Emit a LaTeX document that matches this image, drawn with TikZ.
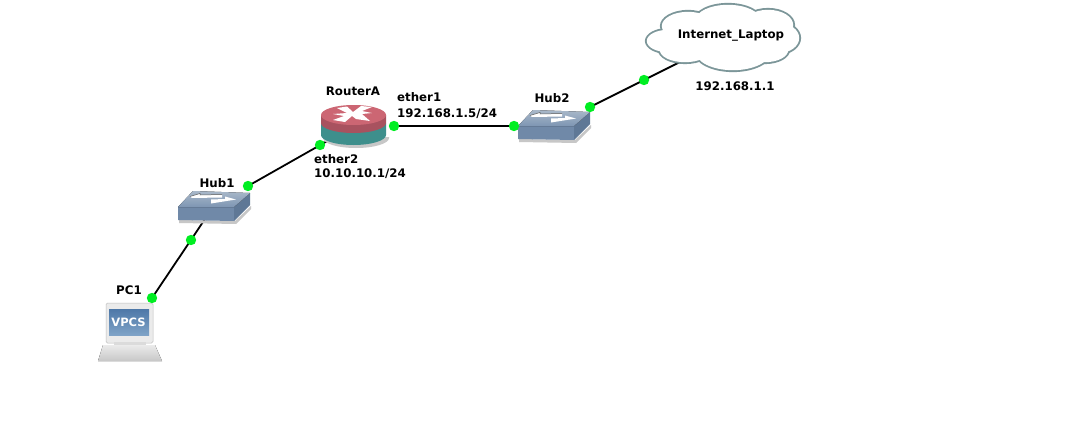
\documentclass[tikz,border=0pt]{standalone}
\usepackage{fontspec}
\setmainfont{DejaVu Sans}
\definecolor{hubF}{HTML}{7089A8}
\definecolor{hubS}{HTML}{5F7896}
\definecolor{hubT}{HTML}{7E96B3}
\definecolor{hubTa}{HTML}{A9B8C9}
\definecolor{redT}{HTML}{CC6673}
\definecolor{redB}{HTML}{A8525F}
\definecolor{tealB}{HTML}{3E8F8C}
\definecolor{cloudL}{HTML}{7C9699}
\definecolor{scrA}{HTML}{4E78A8}
\definecolor{scrB}{HTML}{7FA3C7}
\definecolor{dotG}{HTML}{00EE22}
\tikzset{
  x=1pt,y=-1pt,
  lbl/.style={font=\fontsize{11.8}{13}\selectfont\bfseries,inner sep=0pt,text=black},
  dotn/.style={circle,minimum size=10.5pt,inner sep=0pt},
  link/.style={draw=black,line width=1.8pt},
  pics/hubicon/.style={code={
    \fill[black!22] (1,29)--(57,30)--(73,15)--(73,18)--(58,33)--(1,32)--cycle;
    \fill[hubF] (0,16)--(56,16)--(56,30)--(0,29)--cycle;
    \fill[hubS] (56,16)--(72,2)--(72,14)--(56,30)--cycle;
    \fill[top color=hubTa,bottom color=hubT] (15,0)--(72,2)--(56,16)--(0,16)--cycle;
    \fill[white] (12,5.5)--(22,2.5)--(22,4)--(44,3.5)--(44,6.5)--(14,7)--cycle;
    \fill[white] (33,8.5)--(47,8)--(47,5.5)--(58,8.5)--(33,12.5)--cycle;
    \draw[black!65,line width=.5pt] (12,5.5)--(22,2.5)--(22,4)--(44,3.5);
  }}
}
\begin{document}
\begin{tikzpicture}
\useasboundingbox (0,0) rectangle (1079,442);
\fill[white] (0,0) rectangle (1079,442);
% end points of the links inside the devices
\coordinate (hubAin) at (207,216);
\coordinate (routerIn) at (345,131);
\coordinate (hubBl) at (540,126);
\coordinate (cloudIn) at (700,52);
% dots (painted after the devices)
\node[dotn] (d1) at (152,298) {};
\node[dotn] (d2) at (191,240) {};
\node[dotn] (d3) at (248,186) {};
\node[dotn] (d4) at (320,145) {};
\node[dotn] (d5) at (394,126) {};
\node[dotn] (d6) at (514,126) {};
\node[dotn] (d7) at (590,107) {};
\node[dotn] (d8) at (644,80) {};
% links
\draw[link] (d1.center) -- (hubAin);
\draw[link] (d3.center) -- (routerIn);
\draw[link] (d5.center) -- (hubBl);
\draw[link] (d7.center) -- (cloudIn);
% cloud: ellipses in the outline colour, then the same ellipses in white
\foreach \cx/\cy/\rx/\ry in {668/41/22/12,688/26/27/15,728/20/33/16,768/25/26/16,778/38/22/16,765/50/24/13,733/52/38/19,685/50/26/13}
  \fill[cloudL] (\cx,\cy) ellipse[x radius=\rx+1.1,y radius=\ry+1.1];
\foreach \cx/\cy/\rx/\ry in {668/41/22/12,688/26/27/15,728/20/33/16,768/25/26/16,778/38/22/16,765/50/24/13,733/52/38/19,685/50/26/13,725/36/50/16}
  \fill[white] (\cx,\cy) ellipse[x radius=\rx-.8,y radius=\ry-.8];
% hubs
\pic at (178,191) {hubicon};
\pic at (518,110) {hubicon};
% router
\fill[black!22] (323,137) -- (323,138) arc[start angle=180,end angle=0,x radius=33,y radius=10] -- (389,137) -- cycle;
\fill[tealB] (321,123) -- (321,135) arc[start angle=180,end angle=0,x radius=32.5,y radius=10] -- (386,123) -- cycle;
\fill[redB] (321,115) -- (321,123) arc[start angle=180,end angle=0,x radius=32.5,y radius=10] -- (386,115) -- cycle;
\fill[redT] (353.5,115) ellipse[x radius=32.5,y radius=10];
\fill[white] (337,108)--(347,106.5)--(353,112)--(361,106)--(372,107)--(362,111)--(372,113)--(362,114)--(370,121)--(356,119)--(352,116)--(345,122)--(333,120)--(344,116)--(333,114)--(347,113)--cycle;
% PC
\fill[black!8,rounded corners=1.5pt] (106,303) rectangle (153,343);
\draw[black!25,line width=.5pt,rounded corners=1.5pt] (106,303) rectangle (153,343);
\fill[black!14] (114,342) rectangle (146,346);
\fill[top color=black!8,bottom color=black!22] (103,345)--(155,345)--(162,361)--(98,361)--cycle;
\fill[top color=scrA,bottom color=scrB] (109,309) rectangle (149,335);
\node[font=\fontsize{11.5}{13}\selectfont\bfseries,text=white,inner sep=0pt] (vpcs) at (128.5,322.5) {VPCS};
% dots on top
\foreach \n in {d1,d2,d3,d4,d5,d6,d7,d8}
  \fill[dotG] (\n) circle[radius=5.2];
% labels
\node[lbl] (lr) at (353,91) {RouterA};
\node[lbl,anchor=west] (le1) at (397,97) {ether1};
\node[lbl,anchor=west] (le1a) at (397,114) {192.168.1.5/24};
\node[lbl,anchor=west] (le2) at (314,159) {ether2};
\node[lbl,anchor=west] (le2a) at (314,174) {10.10.10.1/24};
\node[lbl] (lh1) at (217,183) {Hub1};
\node[lbl] (lh2) at (552,98) {Hub2};
\node[lbl] (lpc) at (129,290) {PC1};
\node[lbl] (lc) at (731,36) {Internet\_Laptop};
\node[lbl] (lip) at (735,86) {192.168.1.1};
\end{tikzpicture}
\end{document}
